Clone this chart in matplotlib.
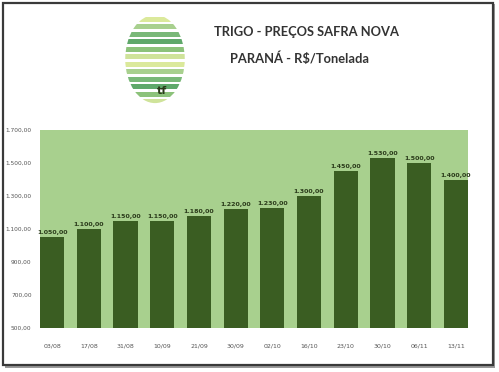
import matplotlib
matplotlib.use("Agg")
import matplotlib.pyplot as plt
from matplotlib.patches import Rectangle, Ellipse
import numpy as np

dates = ["03/08", "17/08", "31/08", "10/09", "21/09", "30/09", "02/10",
         "16/10", "23/10", "30/10", "06/11", "13/11"]
prices = [1050, 1100, 1150, 1150, 1180, 1220, 1230, 1300, 1450, 1530, 1500, 1400]
yticks = [500, 700, 900, 1100, 1300, 1500, 1700]
title1 = "TRIGO - PREÇOS SAFRA NOVA"
title2 = "PARANÁ - R$/Tonelada"

def br(v):
    s = f"{v:,.2f}"
    return s.replace(",", "X").replace(".", ",").replace("X", ".")

W, H = 499, 372
fig = plt.figure(figsize=(W / 100, H / 100), dpi=100)
fig.patch.set_facecolor("white")

# outer frame with shadow
fig.patches.append(Rectangle((5 / W, 1 - 368 / H), 490 / W, 364 / H, transform=fig.transFigure,
                             facecolor="#9a9a9a", edgecolor="none", zorder=-2))
fig.patches.append(Rectangle((3 / W, 1 - 365 / H), 490 / W, 362 / H, transform=fig.transFigure,
                             facecolor="white", edgecolor="#3a3a3a", linewidth=1.6, zorder=-1))

ax = fig.add_axes([40 / W, 1 - 328 / H, 428 / W, 198 / H], zorder=2)
ax.set_facecolor("#a8d08e")
x = np.arange(len(dates))
ax.bar(x, [p - yticks[0] for p in prices], bottom=yticks[0], width=0.66, color="#3a5d22")
ax.set_xlim(-0.33, len(dates) - 1 + 0.33)
ax.set_ylim(yticks[0], yticks[-1])
for s in ax.spines.values():
    s.set_visible(False)
ax.set_yticks(yticks)
ax.set_yticklabels([br(v) for v in yticks], fontsize=4.2, color="#555555")
ax.set_xticks(x)
ax.set_xticklabels(dates, fontsize=4.5, color="#555555")
ax.tick_params(length=0, pad=6)
ax.tick_params(axis="x", pad=11)
for xi, p in zip(x, prices):
    ax.text(xi, p + 12, br(p), ha="center", va="bottom", fontsize=4.5,
            color="#2a3a1a", fontweight="bold")

# titles
fig.text(307 / W, 1 - 32 / H, title1, ha="center", va="center", fontsize=9.3,
         fontweight="bold", color="#333333", family=["Lato", "DejaVu Sans"])
fig.text(300 / W, 1 - 58 / H, title2, ha="center", va="center", fontsize=9.3,
         fontweight="bold", color="#333333", family=["Lato", "DejaVu Sans"])

# logo
lax = fig.add_axes([124 / W, 1 - 104 / H, 62 / W, 90 / H], zorder=2)
lax.set_xlim(0, 1)
lax.set_ylim(0, 1)
lax.axis("off")
ell = Ellipse((0.5, 0.5), 0.96, 0.98, transform=lax.transData, facecolor="none", edgecolor="none")
lax.add_patch(ell)
cols = ["#cfe39a", "#8cc27a", "#5fa86a", "#79b878", "#a8d08e", "#dbe99b"]
n = 12
for i in range(n):
    y0 = i / n
    c = cols[i % len(cols)]
    r = Rectangle((0, y0), 1, 0.65 / n, facecolor=c, edgecolor="none")
    lax.add_patch(r)
    r.set_clip_path(ell)
lax.text(0.62, 0.15, "tf", fontsize=8, fontweight="bold", color="#2a3a1a", ha="center", va="center")

fig.savefig("out.png", dpi=100)
